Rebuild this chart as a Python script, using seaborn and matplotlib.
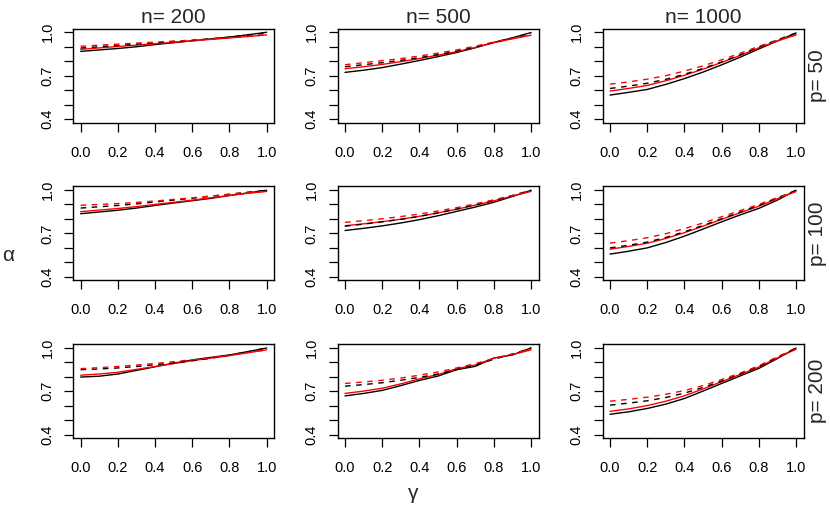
import numpy as np
import pandas as pd
import matplotlib
matplotlib.use("Agg")
import matplotlib.pyplot as plt
import seaborn as sns

# gamma grid shared by every panel
gamma = [0.0, 0.1, 0.2, 0.3, 0.4, 0.5, 0.6, 0.7, 0.8, 0.9, 1.0]

n_values = [200, 500, 1000]
p_values = [50, 100, 200]

# p = 50
p50_n200_black = [0.868, 0.878, 0.888, 0.900, 0.915, 0.928, 0.941, 0.954, 0.967, 0.983, 1.0]
p50_n200_red = [0.882, 0.892, 0.902, 0.911, 0.921, 0.931, 0.941, 0.951, 0.961, 0.971, 0.982]
p50_n200_black_dash = [0.891, 0.900, 0.909, 0.918, 0.927, 0.936, 0.945, 0.955, 0.966, 0.980, 0.995]
p50_n200_red_dash = [0.903, 0.911, 0.918, 0.925, 0.932, 0.939, 0.946, 0.954, 0.962, 0.971, 0.982]

p50_n500_black = [0.723, 0.738, 0.756, 0.780, 0.805, 0.832, 0.860, 0.893, 0.930, 0.962, 0.998]
p50_n500_red = [0.748, 0.762, 0.778, 0.797, 0.818, 0.842, 0.866, 0.895, 0.928, 0.955, 0.980]
p50_n500_black_dash = [0.762, 0.776, 0.790, 0.806, 0.825, 0.846, 0.870, 0.898, 0.930, 0.960, 0.995]
p50_n500_red_dash = [0.776, 0.790, 0.804, 0.818, 0.836, 0.856, 0.878, 0.904, 0.932, 0.958, 0.982]

p50_n1000_black = [0.566, 0.585, 0.605, 0.640, 0.680, 0.725, 0.775, 0.828, 0.885, 0.940, 0.995]
p50_n1000_red = [0.594, 0.612, 0.633, 0.665, 0.703, 0.745, 0.792, 0.840, 0.893, 0.940, 0.982]
p50_n1000_black_dash = [0.612, 0.628, 0.648, 0.675, 0.710, 0.750, 0.795, 0.845, 0.898, 0.948, 0.995]
p50_n1000_red_dash = [0.642, 0.657, 0.676, 0.700, 0.732, 0.768, 0.810, 0.855, 0.903, 0.945, 0.982]

# p = 100
p100_n200_black = [0.836, 0.848, 0.860, 0.875, 0.893, 0.910, 0.926, 0.942, 0.962, 0.980, 0.998]
p100_n200_red = [0.850, 0.861, 0.872, 0.885, 0.900, 0.915, 0.930, 0.946, 0.962, 0.977, 0.990]
p100_n200_black_dash = [0.875, 0.884, 0.893, 0.904, 0.917, 0.930, 0.943, 0.957, 0.971, 0.985, 0.998]
p100_n200_red_dash = [0.894, 0.900, 0.906, 0.914, 0.924, 0.935, 0.946, 0.958, 0.970, 0.982, 0.992]

p100_n500_black = [0.720, 0.735, 0.752, 0.772, 0.795, 0.822, 0.852, 0.882, 0.915, 0.955, 0.998]
p100_n500_red = [0.753, 0.766, 0.781, 0.798, 0.818, 0.842, 0.867, 0.895, 0.925, 0.958, 0.990]
p100_n500_black_dash = [0.750, 0.764, 0.780, 0.797, 0.818, 0.842, 0.868, 0.897, 0.928, 0.962, 0.998]
p100_n500_red_dash = [0.776, 0.788, 0.801, 0.816, 0.834, 0.855, 0.878, 0.904, 0.932, 0.962, 0.990]

p100_n1000_black = [0.557, 0.577, 0.600, 0.637, 0.681, 0.730, 0.780, 0.828, 0.873, 0.930, 0.998]
p100_n1000_red = [0.591, 0.610, 0.632, 0.665, 0.705, 0.750, 0.797, 0.843, 0.888, 0.940, 0.990]
p100_n1000_black_dash = [0.600, 0.618, 0.640, 0.672, 0.711, 0.755, 0.801, 0.848, 0.893, 0.945, 0.998]
p100_n1000_red_dash = [0.633, 0.650, 0.670, 0.698, 0.733, 0.772, 0.815, 0.858, 0.900, 0.948, 0.990]

# p = 200
p200_n200_black = [0.797, 0.803, 0.818, 0.843, 0.868, 0.893, 0.915, 0.933, 0.950, 0.973, 0.998]
p200_n200_red = [0.810, 0.818, 0.830, 0.850, 0.870, 0.890, 0.910, 0.928, 0.945, 0.965, 0.985]
p200_n200_black_dash = [0.848, 0.853, 0.860, 0.870, 0.882, 0.895, 0.910, 0.927, 0.948, 0.972, 0.998]
p200_n200_red_dash = [0.855, 0.862, 0.870, 0.880, 0.891, 0.903, 0.916, 0.931, 0.948, 0.967, 0.985]

p200_n500_black = [0.667, 0.684, 0.705, 0.738, 0.774, 0.804, 0.848, 0.871, 0.928, 0.950, 0.998]
p200_n500_red = [0.684, 0.700, 0.720, 0.750, 0.785, 0.815, 0.855, 0.880, 0.928, 0.952, 0.985]
p200_n500_black_dash = [0.734, 0.745, 0.758, 0.775, 0.795, 0.818, 0.848, 0.880, 0.920, 0.955, 0.998]
p200_n500_red_dash = [0.753, 0.763, 0.775, 0.790, 0.810, 0.832, 0.860, 0.890, 0.925, 0.957, 0.990]

p200_n1000_black = [0.540, 0.557, 0.580, 0.610, 0.649, 0.700, 0.753, 0.805, 0.857, 0.925, 0.998]
p200_n1000_red = [0.560, 0.577, 0.600, 0.630, 0.668, 0.715, 0.765, 0.815, 0.866, 0.930, 0.990]
p200_n1000_black_dash = [0.603, 0.617, 0.633, 0.656, 0.686, 0.725, 0.770, 0.818, 0.870, 0.935, 0.998]
p200_n1000_red_dash = [0.630, 0.643, 0.658, 0.678, 0.704, 0.738, 0.780, 0.825, 0.875, 0.937, 0.990]

y_ticks = [0.4, 0.5, 0.6, 0.7, 0.8, 0.9, 1.0]
y_labels = ["0.4", "", "", "0.7", "", "", "1.0"]
x_ticks = [0.0, 0.2, 0.4, 0.6, 0.8, 1.0]
x_labels = ["0.0", "0.2", "0.4", "0.6", "0.8", "1.0"]

sns.set_style("white")
plt.rcParams["font.family"] = ["Liberation Sans", "DejaVu Sans"]

W, H = 830, 511
fig = plt.figure(figsize=(W / 100, H / 100), dpi=100)

col_left = [73.2, 337.6, 602.6]
row_top = [28.8, 186.5, 344.2]
ax_w, ax_h = 200.9, 93.8

line_styles = [
    ("black", "black", ""),
    ("red", "red", ""),
    ("black_dash", "black", (4, 4)),
    ("red_dash", "red", (4, 4)),
]

for i, p in enumerate(p_values):
    for j, n in enumerate(n_values):
        left = col_left[j] / W
        bottom = 1 - (row_top[i] + ax_h) / H
        ax = fig.add_axes([left, bottom, ax_w / W, ax_h / H])
        for suffix, color, dash in line_styles:
            vals = globals()[f"p{p}_n{n}_{suffix}"]
            df = pd.DataFrame({"gamma": gamma, "alpha": vals})
            sns.lineplot(data=df, x="gamma", y="alpha", ax=ax, color=color,
                         linewidth=1.0, dashes=False, legend=False)
            if dash:
                ax.lines[-1].set_dashes(dash)
        ax.set_xlim(-0.04, 1.04)
        ax.set_ylim(0.376, 1.024)
        ax.set_xticks(x_ticks)
        ax.set_xticklabels(x_labels)
        ax.set_yticks(y_ticks)
        ax.set_yticklabels(y_labels, rotation=90, va="center")
        ax.set_xlabel("")
        ax.set_ylabel("")
        for sp in ax.spines.values():
            sp.set_color("black")
            sp.set_linewidth(1.0)
        ax.tick_params(axis="both", which="major", direction="out", length=6.5,
                       width=0.9, color="black", labelsize=10.5, labelcolor="black",
                       left=True, bottom=True)
        ax.tick_params(axis="x", pad=10)
        ax.tick_params(axis="y", pad=7)
        if i == 0:
            ax.set_title(f"n= {n}", fontsize=15, pad=4)
        if j == 2:
            ax.text(1.07, 0.5, f"p= {p}", transform=ax.transAxes, rotation=90,
                    ha="center", va="center", fontsize=15)

fig.text(8 / W, 1 - 255 / H, "α", ha="center", va="center", fontsize=15)
fig.text(413 / W, 1 - 493 / H, "γ", ha="center", va="center", fontsize=15)

fig.savefig("out.png", dpi=100)
